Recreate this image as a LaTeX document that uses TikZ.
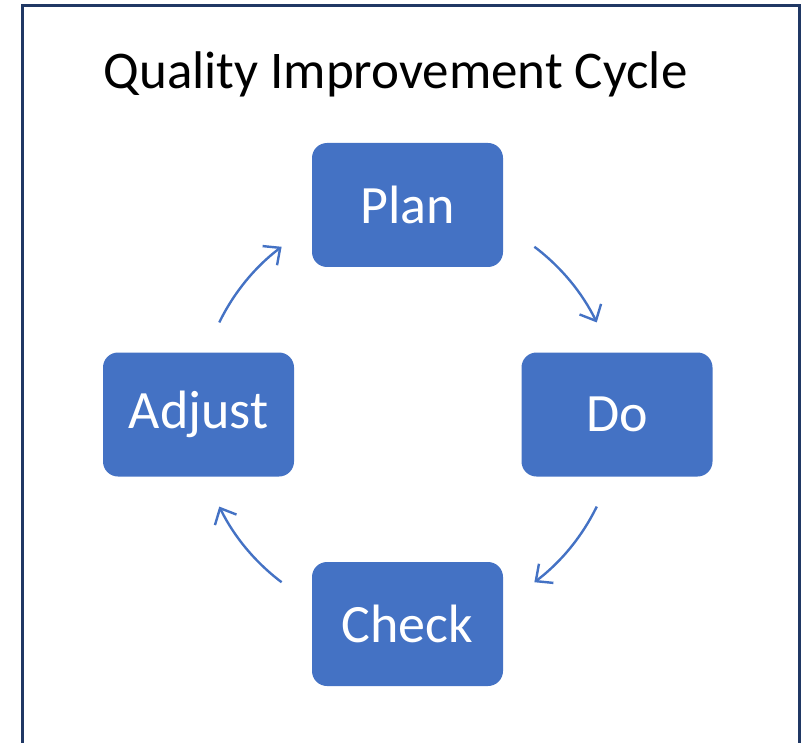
\documentclass[tikz,border=0pt]{standalone}
\usepackage{fontspec}
\setmainfont{Carlito}
\usetikzlibrary{arrows.meta}
\definecolor{boxblue}{HTML}{4472C4}
\definecolor{framenavy}{HTML}{203864}
\tikzset{
  stepbox/.style={draw=none,fill=boxblue,rounded corners=15pt,minimum width=191pt,
    minimum height=124pt,text=white,font=\fontsize{54}{60}\selectfont},
  cyc/.style={draw=boxblue,line width=2.4pt,-{Straight Barb[length=13pt,width=24pt]}}
}

\begin{document}
\begin{tikzpicture}[x=1pt,y=1pt]
\useasboundingbox (0,0) rectangle (808,-743);
\draw[framenavy,line width=3pt](22.5,-5.5) rectangle (799.5,-780);

\node[anchor=base,font=\fontsize{53}{60}\selectfont] (title) at (395.5,-89) {Quality Improvement Cycle};

\coordinate (mid) at (408,-414.5);
\node[stepbox] (plan) at (407.5,-205) {Plan};
\node[stepbox] (do) at (617,-414.5) {Do};
\node[stepbox] (check) at (407.5,-624) {Check};
\node[stepbox] (adjust) at (198.5,-414.5) {Adjust};

\draw[cyc] ([shift={(53:210)}]mid) arc[start angle=53,end angle=26,radius=210];
\draw[cyc] ([shift={(-26:210)}]mid) arc[start angle=-26,end angle=-53,radius=210];
\draw[cyc] ([shift={(-127:210)}]mid) arc[start angle=-127,end angle=-154,radius=210];
\draw[cyc] ([shift={(154:210)}]mid) arc[start angle=154,end angle=127,radius=210];
\end{tikzpicture}
\end{document}
